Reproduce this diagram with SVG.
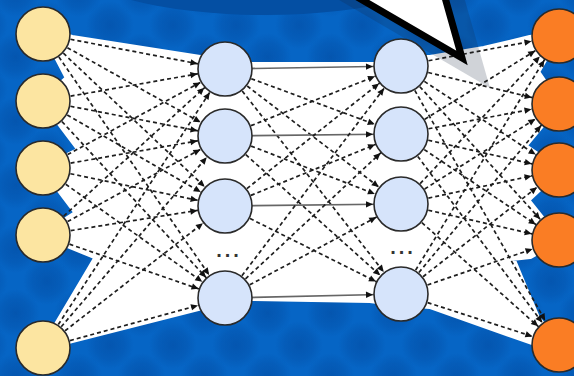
<svg xmlns="http://www.w3.org/2000/svg" width="574" height="376" viewBox="0 0 574 376">
<style>
.c{stroke:#1e1e1e;stroke-width:1.7;stroke-dasharray:4 3;fill:none;marker-end:url(#ah)}
.s{stroke-dasharray:none;stroke:#666}
.y{fill:#fce5a1;stroke:#2a2a2a;stroke-width:1.6}
.b{fill:#d6e4fb;stroke:#2a2a2a;stroke-width:1.6}
.o{fill:#fa7d24;stroke:#2a2a2a;stroke-width:1.6}
.dots{font-family:"Liberation Sans",Arial,sans-serif;font-size:20px;font-weight:bold;fill:#333;letter-spacing:3px}
</style>
<defs>
<radialGradient id="hg">
<stop offset="0" stop-color="#0454ad" stop-opacity="0.9"/>
<stop offset="0.6" stop-color="#0454ad" stop-opacity="0.5"/>
<stop offset="1" stop-color="#0454ad" stop-opacity="0"/>
</radialGradient>
<pattern id="hex" patternUnits="userSpaceOnUse" x="47" y="25" width="63" height="64">
<circle cx="0" cy="0" r="24" fill="url(#hg)"/>
<circle cx="63" cy="0" r="24" fill="url(#hg)"/>
<circle cx="31.5" cy="32" r="24" fill="url(#hg)"/>
<circle cx="0" cy="64" r="24" fill="url(#hg)"/>
<circle cx="63" cy="64" r="24" fill="url(#hg)"/>
</pattern>
<marker id="ah" markerUnits="userSpaceOnUse" orient="auto" refX="28" refY="0" markerWidth="10" markerHeight="10" overflow="visible">
<path d="M-7,-3.2 L0,0 L-7,3.2 z" fill="#111"/>
</marker>
</defs>
<rect width="574" height="376" fill="#0665c5"/>
<rect width="574" height="376" fill="url(#hex)"/>
<ellipse cx="265" cy="-40" rx="195" ry="55" fill="#044fa3"/>
<path id="area" d="M43,30 L72,38 L200,58 L225,56 L250,65 L380,65 L401,58 L430,58 L484,49 L530,38 L559,34 L537,72 L559,104 L524,146 L559,170 L527,200 L559,240 L530,256 L512,258 L537,318 L559,345 L532,342 L430,306 L401,304 L370,300 L250,298 L225,302 L198,308 L72,340 L43,348 L97,257 L43,235 L77,213 L43,168 L80,150 L43,101 L68,78 Z" fill="#fff" stroke="#fff" stroke-width="6" stroke-linejoin="round"/>
<polygon points="322,-10 490,88 462,-10" fill="#14233a" opacity="0.2"/>
<g id="connectors">
<line class="c" x1="43" y1="34" x2="225" y2="69"/>
<line class="c" x1="43" y1="34" x2="225" y2="136"/>
<line class="c" x1="43" y1="34" x2="225" y2="206"/>
<line class="c" x1="43" y1="34" x2="225" y2="298"/>
<line class="c" x1="43" y1="101" x2="225" y2="69"/>
<line class="c" x1="43" y1="101" x2="225" y2="136"/>
<line class="c" x1="43" y1="101" x2="225" y2="206"/>
<line class="c" x1="43" y1="101" x2="225" y2="298"/>
<line class="c" x1="43" y1="168" x2="225" y2="69"/>
<line class="c" x1="43" y1="168" x2="225" y2="136"/>
<line class="c" x1="43" y1="168" x2="225" y2="206"/>
<line class="c" x1="43" y1="168" x2="225" y2="298"/>
<line class="c" x1="43" y1="235" x2="225" y2="69"/>
<line class="c" x1="43" y1="235" x2="225" y2="136"/>
<line class="c" x1="43" y1="235" x2="225" y2="206"/>
<line class="c" x1="43" y1="235" x2="225" y2="298"/>
<line class="c" x1="43" y1="348" x2="225" y2="69"/>
<line class="c" x1="43" y1="348" x2="225" y2="136"/>
<line class="c" x1="43" y1="348" x2="225" y2="206"/>
<line class="c" x1="43" y1="348" x2="225" y2="298"/>
<line class="c s" x1="225" y1="69" x2="401" y2="66"/>
<line class="c" x1="225" y1="69" x2="401" y2="134"/>
<line class="c" x1="225" y1="69" x2="401" y2="204"/>
<line class="c" x1="225" y1="69" x2="401" y2="294"/>
<line class="c" x1="225" y1="136" x2="401" y2="66"/>
<line class="c s" x1="225" y1="136" x2="401" y2="134"/>
<line class="c" x1="225" y1="136" x2="401" y2="204"/>
<line class="c" x1="225" y1="136" x2="401" y2="294"/>
<line class="c" x1="225" y1="206" x2="401" y2="66"/>
<line class="c" x1="225" y1="206" x2="401" y2="134"/>
<line class="c s" x1="225" y1="206" x2="401" y2="204"/>
<line class="c" x1="225" y1="206" x2="401" y2="294"/>
<line class="c" x1="225" y1="298" x2="401" y2="66"/>
<line class="c" x1="225" y1="298" x2="401" y2="134"/>
<line class="c" x1="225" y1="298" x2="401" y2="204"/>
<line class="c s" x1="225" y1="298" x2="401" y2="294"/>
<line class="c" x1="401" y1="66" x2="559" y2="36"/>
<line class="c" x1="401" y1="66" x2="559" y2="104"/>
<line class="c" x1="401" y1="66" x2="559" y2="170"/>
<line class="c" x1="401" y1="66" x2="559" y2="240"/>
<line class="c" x1="401" y1="66" x2="559" y2="345"/>
<line class="c" x1="401" y1="134" x2="559" y2="36"/>
<line class="c" x1="401" y1="134" x2="559" y2="104"/>
<line class="c" x1="401" y1="134" x2="559" y2="170"/>
<line class="c" x1="401" y1="134" x2="559" y2="240"/>
<line class="c" x1="401" y1="134" x2="559" y2="345"/>
<line class="c" x1="401" y1="204" x2="559" y2="36"/>
<line class="c" x1="401" y1="204" x2="559" y2="104"/>
<line class="c" x1="401" y1="204" x2="559" y2="170"/>
<line class="c" x1="401" y1="204" x2="559" y2="240"/>
<line class="c" x1="401" y1="204" x2="559" y2="345"/>
<line class="c" x1="401" y1="294" x2="559" y2="36"/>
<line class="c" x1="401" y1="294" x2="559" y2="104"/>
<line class="c" x1="401" y1="294" x2="559" y2="170"/>
<line class="c" x1="401" y1="294" x2="559" y2="240"/>
<line class="c" x1="401" y1="294" x2="559" y2="345"/>
</g>
<g id="in1"><circle class="y" cx="43" cy="34" r="27"/></g>
<g id="in2"><circle class="y" cx="43" cy="101" r="27"/></g>
<g id="in3"><circle class="y" cx="43" cy="168" r="27"/></g>
<g id="in4"><circle class="y" cx="43" cy="235" r="27"/></g>
<g id="in5"><circle class="y" cx="43" cy="348" r="27"/></g>
<g id="h1a"><circle class="b" cx="225" cy="69" r="27"/></g>
<g id="h1b"><circle class="b" cx="225" cy="136" r="27"/></g>
<g id="h1c"><circle class="b" cx="225" cy="206" r="27"/></g>
<g id="h1dots"><text class="dots" x="229" y="257" text-anchor="middle">...</text></g>
<g id="h1d"><circle class="b" cx="225" cy="298" r="27"/></g>
<g id="h2a"><circle class="b" cx="401" cy="66" r="27"/></g>
<g id="h2b"><circle class="b" cx="401" cy="134" r="27"/></g>
<g id="h2c"><circle class="b" cx="401" cy="204" r="27"/></g>
<g id="h2dots"><text class="dots" x="403" y="254" text-anchor="middle">...</text></g>
<g id="h2d"><circle class="b" cx="401" cy="294" r="27"/></g>
<g id="out1"><circle class="o" cx="559" cy="36" r="27"/></g>
<g id="out2"><circle class="o" cx="559" cy="104" r="27"/></g>
<g id="out3"><circle class="o" cx="559" cy="170" r="27"/></g>
<g id="out4"><circle class="o" cx="559" cy="240" r="27"/></g>
<g id="out5"><circle class="o" cx="559" cy="345" r="27"/></g>
<g id="pointer"><polygon points="352,-6 462,58 444,-6" fill="#fff" stroke="#000" stroke-width="7" stroke-linejoin="miter"/></g>
</svg>
